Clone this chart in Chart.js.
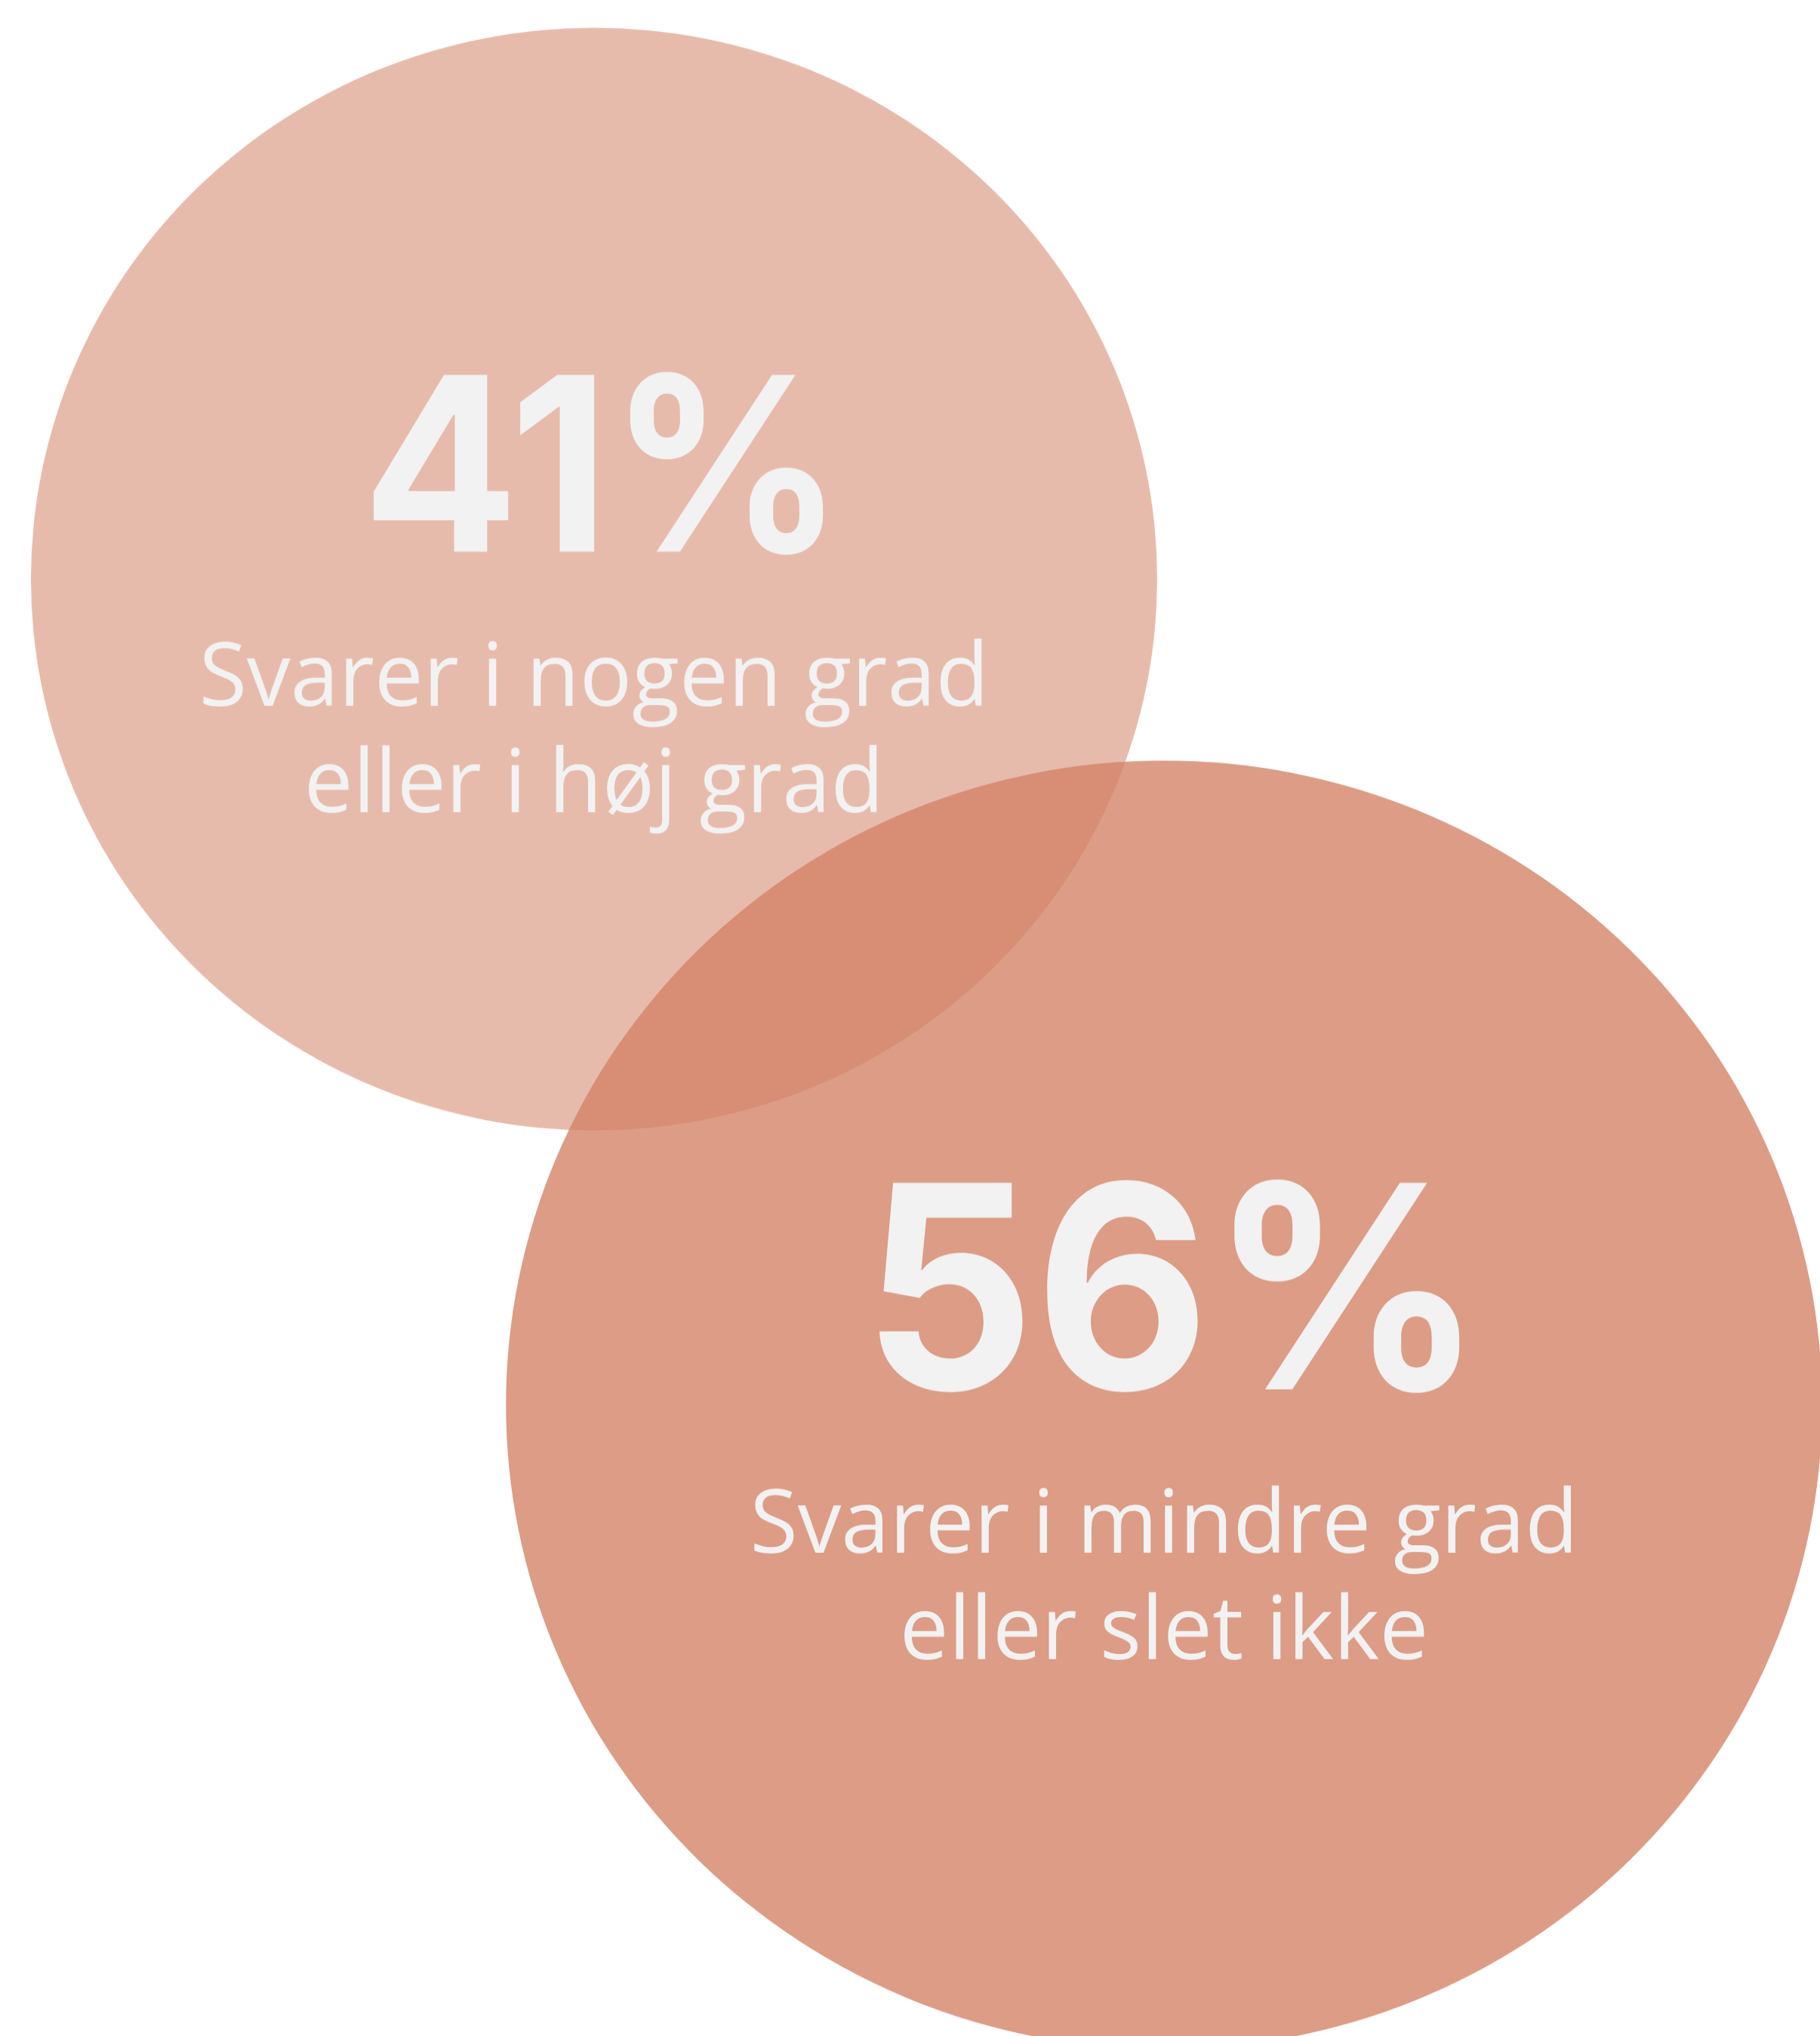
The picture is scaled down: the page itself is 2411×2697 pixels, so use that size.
<!DOCTYPE html>
<html>
<head>
<meta charset="utf-8">
<script src="https://cdn.jsdelivr.net/npm/chart.js@4.4.0/dist/chart.umd.min.js"></script>
<style>
  html, body { margin: 0; padding: 0; background: #fff; overflow: hidden; }
</style>
</head>
<body>
<!-- the source picture is squashed a little vertically, so the canvas is too -->
<canvas id="chart" width="2411" height="2755" style="display:block;width:2411px;height:2697px"></canvas>
<script>
// data
const values = [41, 56];
const captionTop = ['Svarer i nogen grad', 'Svarer i mindre grad'];
const captionBottom = ['eller i høj grad', 'eller slet ikke'];

// layout (percent of the plot, y from the top)
const centerX = [32.64, 63.96];
const centerY = [28.44, 69.0];
// text baselines relative to the circle centre, px
const numberBaseline = [-37, -21];
const line1Baseline = [171, 200];
const line2Baseline = [315, 344];

const RADIUS_PER_SQRT = 116.5;   // circle area follows the share
const NUM_SQUEEZE = 0.93;
const NUM_SHIFT = 12;
const CAPTION_SQUEEZE = 0.97;
const TEXT = '#f2f2f2';

function squeezedText(ctx, text, x, y, sx) {
  ctx.save();
  ctx.translate(x, y);
  ctx.scale(sx, 1);
  ctx.fillText(text, 0, 0);
  ctx.restore();
}

const circleText = {
  id: 'circleText',
  afterDatasetsDraw(chart) {
    const ctx = chart.ctx;
    const meta = chart.getDatasetMeta(0);
    meta.data.forEach((pt, i) => {
      const r = pt.options.radius;
      ctx.save();
      ctx.fillStyle = TEXT;
      ctx.textAlign = 'center';
      ctx.textBaseline = 'alphabetic';

      ctx.font = `700 ${Math.round(r * 0.441)}px Inter`;
      squeezedText(ctx, values[i] + '%', pt.x + NUM_SHIFT, pt.y + numberBaseline[i], NUM_SQUEEZE);

      ctx.font = '400 119px "Open Sans"';
      squeezedText(ctx, captionTop[i], pt.x, pt.y + line1Baseline[i], CAPTION_SQUEEZE);
      squeezedText(ctx, captionBottom[i], pt.x, pt.y + line2Baseline[i], CAPTION_SQUEEZE);
      ctx.restore();
    });
  }
};

new Chart(document.getElementById('chart'), {
  type: 'bubble',
  data: {
    datasets: [{
      data: values.map((v, i) => ({ x: centerX[i], y: centerY[i], r: RADIUS_PER_SQRT * Math.sqrt(v) })),
      backgroundColor: ['rgba(211,130,101,0.54)', 'rgba(211,130,101,0.79)'],
      borderWidth: 0,
      hoverRadius: 0,
      clip: false
    }]
  },
  options: {
    responsive: false,
    animation: false,
    events: [],
    layout: { padding: 0, autoPadding: false },
    plugins: { legend: { display: false }, tooltip: { enabled: false } },
    scales: {
      x: { type: 'linear', min: 0, max: 100, display: false },
      y: { type: 'linear', min: 0, max: 100, reverse: true, display: false }
    }
  },
  plugins: [circleText]
});
</script>
</body>
</html>
